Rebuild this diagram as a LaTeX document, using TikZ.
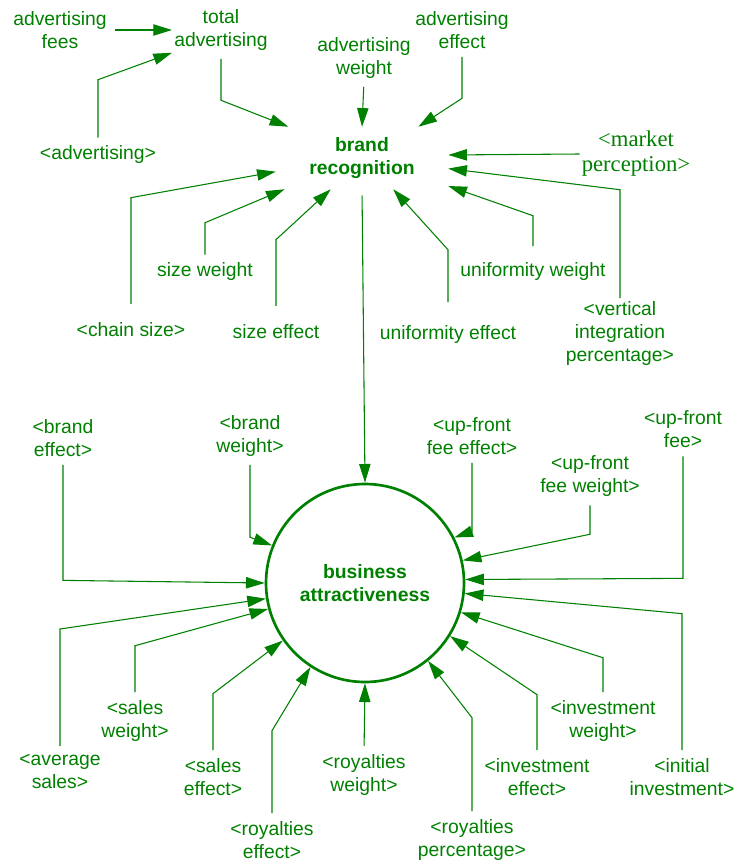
\documentclass[tikz,border=0pt]{standalone}
\usepackage{fontspec}
\setmainfont{Liberation Sans}
\newfontfamily\serifvar{Liberation Serif}
\usetikzlibrary{arrows.meta, shapes.geometric}
\definecolor{vgreen}{RGB}{0,128,0}

\begin{document}
\begin{tikzpicture}[
        x = 0.75pt, y = -0.75pt,
        var/.style = {align=center, inner sep=1.5pt, text=vgreen, font=\fontsize{14.5}{17.25}\selectfont},
        hub/.style = {var, font=\bfseries\fontsize{14.5}{17.25}\selectfont},
        link/.style = {draw=vgreen, line width=0.8pt, shorten <=4.5pt, -{Triangle[length=14pt, width=8.5pt]}}
    ]
    \useasboundingbox (0,0) rectangle (737,863);

    % brand recognition part
    \node[var] (advfees)    at (60,30)   {advertising\\fees};
    \node[var] (totaladv)   at (221,30)  {total\\advertising};
    \node[var] (advweight)  at (364,58)  {advertising\\weight};
    \node[var] (adveffect)  at (462,30)  {advertising\\effect};
    \node[var] (advertising) at (98,155) {<advertising>};
    \node[hub, minimum width=129pt, minimum height=46.5pt] (brand) at (362,158) {brand\\recognition};
    \node[var, font=\serifvar\fontsize{17}{18.75}\selectfont] (market) at (636,154) {<market\\perception>};
    \node[var] (chainsize)  at (131,330) {<chain size>};
    \node[var] (sizeweight) at (205,272) {size weight};
    \node[var] (sizeeffect) at (276,332) {size effect};
    \node[var] (unifeffect) at (448,334) {uniformity effect};
    \node[var] (unifweight) at (533,272) {uniformity weight};
    \node[var] (vertint)    at (620,333) {<vertical\\integration\\percentage>};

    \draw[link] (advfees.east) -- (totaladv.west);
    \draw[link] (advertising.north) -- ++(0,-64) -- (totaladv.south west);
    \draw[link] (totaladv.south) -- ++(0,47.5) -- (brand.157);
    \draw[link] (advweight.south) -- (brand.north);
    \draw[link] (adveffect.south) -- ++(0,47.5) -- (brand.29);
    \draw[link, shorten <=0pt] (market.west) -- (brand.2);
    \draw[link, shorten <=0.5pt] (vertint.north) -- ++(0,-109) -- (brand.-7);
    \draw[link, shorten <=11pt] (unifweight.north) -- ++(0,-45) -- (brand.-18);
    \draw[link, shorten <=15.5pt] (unifeffect.north) -- ++(0,-73) -- (brand.-45);
    \draw[link, shorten <=12.5pt] (sizeeffect.north) -- ++(0,-83) -- (brand.225);
    \draw[link] (sizeweight.north) -- ++(0,-38) -- (brand.202);
    \draw[link, shorten <=12.5pt] (chainsize.north) -- ++(0,-123) -- (brand.189);

    % business attractiveness part
    \node[hub, circle, draw=vgreen, line width=2pt, minimum size=148.5pt] (business) at (365,583) {business\\attractiveness};
    \node[var] (brandeffect)   at (63,438)    {<brand\\effect>};
    \node[var] (brandweight)   at (250,436)   {<brand\\weight>};
    \node[var] (upfronteffect) at (472,436)   {<up-front\\fee effect>};
    \node[var] (upfront)       at (683,429.5) {<up-front\\fee>};
    \node[var] (upfrontweight) at (590,476.5) {<up-front\\fee weight>};
    \node[var] (initinv)       at (682,777)   {<initial\\investment>};
    \node[var] (invweight)     at (603,721)   {<investment\\weight>};
    \node[var] (inveffect)     at (537,777)   {<investment\\effect>};
    \node[var] (royperc)       at (472,840)   {<royalties\\percentage>};
    \node[var] (royweight)     at (364,775)   {<royalties\\weight>};
    \node[var] (royeffect)     at (272,840)   {<royalties\\effect>};
    \node[var] (saleseffect)   at (213,777)   {<sales\\effect>};
    \node[var] (salesweight)   at (135,721)   {<sales\\weight>};
    \node[var] (avgsales)      at (60,771.5)  {<average\\sales>};

    \draw[link] (brand.south) -- (business.north);
    \draw[link] (brandeffect.south) -- ++(0,121.5) -- (business.180);
    \draw[link] (brandweight.south) -- ++(0,78.5) -- (business.158);
    \draw[link] (upfronteffect.south) -- ++(0,74.5) -- (business.27);
    \draw[link] (upfrontweight.south) -- ++(0,35) -- (business.13);
    \draw[link] (upfront.south) -- ++(0,128) -- (business.2);
    \draw[link] (initinv.north) -- ++(0,-142.5) -- (business.-6);
    \draw[link] (invweight.north) -- ++(0,-40.5) -- (business.-17);
    \draw[link] (inveffect.north) -- ++(0,-61.5) -- (business.-32);
    \draw[link] (royperc.north) -- ++(0,-99.5) -- (business.-51);
    \draw[link] (royweight.north) -- (business.south);
    \draw[link] (royeffect.north) -- ++(0,-88.5) -- (business.237);
    \draw[link] (saleseffect.north) -- ++(0,-62.5) -- (business.215);
    \draw[link] (salesweight.north) -- ++(0,-52.5) -- (business.195);
    \draw[link] (avgsales.north) -- ++(0,-123) -- (business.189);
\end{tikzpicture}
\end{document}
